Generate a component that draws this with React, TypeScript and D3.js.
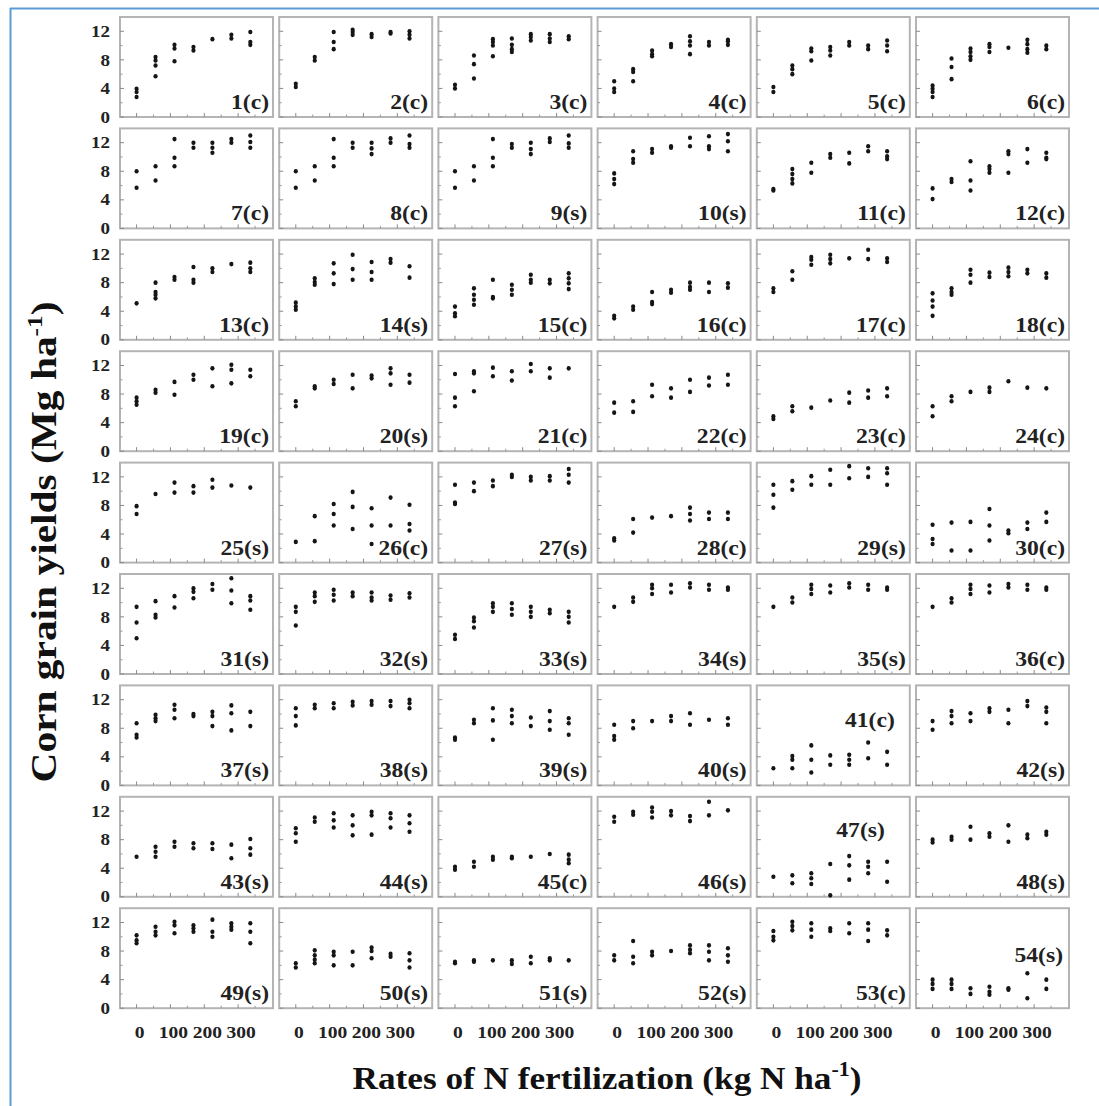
import React from "react";
import * as d3 from "d3";

const rates = [0, 56, 112, 168, 224, 280, 336];
const xMajorTicks = [0, 100, 200, 300];
const xMinorTicks = [50, 150, 250, 350];
const yTickLabels = [0, 4, 8, 12];
const yMinorTicks = [2, 6, 10];

const siteLabels = [
  "1(c)", "2(c)", "3(c)", "4(c)", "5(c)", "6(c)",
  "7(c)", "8(c)", "9(s)", "10(s)", "11(c)", "12(c)",
  "13(c)", "14(s)", "15(c)", "16(c)", "17(c)", "18(c)",
  "19(c)", "20(s)", "21(c)", "22(c)", "23(c)", "24(c)",
  "25(s)", "26(c)", "27(s)", "28(c)", "29(s)", "30(c)",
  "31(s)", "32(s)", "33(s)", "34(s)", "35(s)", "36(c)",
  "37(s)", "38(s)", "39(s)", "40(s)", "41(c)", "42(s)",
  "43(s)", "44(s)", "45(c)", "46(s)", "47(s)", "48(s)",
  "49(s)", "50(s)", "51(s)", "52(s)", "53(c)", "54(s)",
];

// yields (Mg/ha) per site, per N rate, replicate values
const yieldsRow1 = [
  [[3.95, 3.5, 2.8], [8.4, 7.9, 7.2, 5.7], [10.1, 9.6, 7.8], [9.8, 9.3], [10.9], [11.5, 11.0], [11.9, 10.5, 10.1]],
  [[4.65, 4.2], [8.4, 7.9], [11.9, 10.5, 9.5], [12.2, 11.9, 11.5], [11.6, 11.2], [11.9, 11.7], [12.0, 11.5, 11.0]],
  [[4.5, 4.0], [8.6, 7.4, 5.4], [10.9, 10.5, 10.0, 8.5], [11.0, 10.1, 9.5, 9.1], [11.6, 11.2, 10.7], [11.6, 11.0, 10.5], [11.3, 10.9]],
  [[5.0, 4.0, 3.5], [6.7, 6.3, 5.0], [9.3, 8.8, 8.5], [10.2, 9.8], [11.3, 10.6, 10.0, 8.8], [10.5, 10.0], [10.8, 10.6, 10.1]],
  [[4.2, 3.5], [7.2, 6.7, 6.0], [9.6, 9.2, 7.9], [9.8, 9.3, 8.6], [10.5, 10.0], [10.0, 9.5], [10.7, 10.0, 9.2]],
  [[4.4, 3.95, 3.5, 2.8], [8.2, 7.0, 5.3], [9.6, 9.1, 8.5, 8.0], [10.2, 9.8, 9.1], [9.7], [10.8, 10.2, 9.5, 9.0], [10.0, 9.5]],
];
const yieldsRow2 = [
  [[8.0, 5.7], [8.7, 6.7], [12.5, 9.9, 8.7], [12.0, 11.3], [12.0, 11.3, 10.6], [12.5, 12.0], [13.0, 12.1, 11.3]],
  [[8.0, 5.7], [8.7, 6.7], [12.5, 9.9, 8.7], [12.0, 11.3], [12.0, 11.2, 10.4], [12.6, 12.0], [13.0, 11.8, 11.3]],
  [[8.0, 5.7], [8.7, 6.7], [12.5, 9.9, 8.7], [11.8, 11.3], [12.0, 11.1, 10.4], [12.6, 12.1], [13.0, 11.9, 11.3]],
  [[7.7, 6.9, 6.2], [10.8, 9.7, 9.2], [11.1, 10.6], [11.5, 11.3], [12.7, 11.5], [12.9, 11.5, 11.1], [13.2, 12.2, 10.8]],
  [[5.5, 5.3], [8.3, 7.6, 6.9, 6.3], [9.2, 7.8], [10.4, 9.9], [10.6, 9.1], [11.5, 10.8], [10.8, 10.1, 9.7]],
  [[5.6, 4.1], [6.9, 6.5], [9.4, 6.7, 5.3], [8.7, 8.3, 7.8], [10.8, 10.4, 7.8], [11.1, 9.2], [10.6, 9.9, 9.7]],
];
const yieldsRow3 = [
  [[5.1], [8.0, 6.7, 6.3, 5.8], [8.8, 8.4], [10.2, 8.4, 8.0], [10.0, 9.5], [10.6], [10.8, 10.0, 9.5]],
  [[5.2, 4.65, 4.2], [8.6, 8.1, 7.7], [10.7, 9.3, 7.8], [11.9, 9.9, 8.4], [10.9, 9.5, 8.4], [11.3, 10.8], [10.3, 8.7]],
  [[4.65, 3.7, 3.3], [7.2, 6.3, 5.6, 4.9], [8.4, 6.0, 5.8], [7.7, 7.0, 6.3], [9.1, 8.4, 8.0], [8.4, 7.9], [9.3, 8.6, 7.9, 7.1]],
  [[3.35, 3.0], [4.65, 4.2], [6.7, 5.3, 5.0], [7.0, 6.6], [8.0, 7.4, 7.0], [8.0, 6.7], [7.9, 7.3]],
  [[7.2, 6.7], [9.6, 8.4], [11.6, 11.2, 10.5], [11.9, 11.3, 10.7], [11.4], [12.6, 11.3], [11.4, 10.9]],
  [[6.5, 5.5, 4.65, 3.35], [7.2, 6.7, 6.3], [9.8, 9.1, 8.0], [9.4, 8.8], [10.1, 9.5, 8.9], [9.8, 9.3], [9.3, 8.7]],
];
const yieldsRow4 = [
  [[7.5, 7.0, 6.5], [8.6, 8.2], [9.7, 7.9], [10.7, 10.0], [11.6, 9.1], [12.1, 11.4, 9.5], [11.4, 10.5]],
  [[7.0, 6.3], [9.1, 8.8], [10.0, 9.4], [10.7, 8.8], [10.6, 10.2], [11.6, 10.9, 9.3], [10.7, 9.6]],
  [[10.8, 7.5, 6.3], [11.2, 10.9, 8.4], [11.7, 10.5], [11.2, 9.9], [12.2, 11.2], [11.6, 10.3], [11.6]],
  [[6.8, 5.4], [7.0, 5.5], [9.3, 7.7], [8.8, 7.5], [10.0, 8.3], [10.3, 9.2], [10.7, 9.3]],
  [[4.9, 4.5], [6.3, 5.6], [6.1], [7.1], [8.2, 6.8], [8.5, 7.5], [8.8, 7.7]],
  [[6.3, 4.9], [7.7, 7.0], [8.3], [8.9, 8.3], [9.8], [8.9], [8.8]],
];
const yieldsRow5 = [
  [[7.9, 6.8], [9.6], [11.2, 9.8], [10.7, 9.8], [11.6, 10.5], [10.8], [10.5]],
  [[2.9], [6.5, 3.0], [8.2, 6.8, 5.2], [9.9, 7.8, 4.7], [7.6, 5.2, 2.6], [9.1, 5.2], [8.1, 5.4, 4.5]],
  [[10.9, 8.4, 8.2], [11.2, 10.0], [11.5, 10.7], [12.3, 12.0], [12.0, 11.5], [12.1, 11.5], [13.1, 12.3, 11.2]],
  [[3.4, 3.1], [6.1, 4.2], [6.3], [6.5], [7.7, 6.8, 5.9], [7.0, 6.1], [7.0, 6.1]],
  [[10.9, 9.5, 7.7], [11.4, 10.2], [12.1, 10.9], [13.0, 10.9], [13.5, 11.8], [13.2, 12.0], [13.2, 12.5, 10.9]],
  [[5.3, 3.3, 2.6], [5.6, 1.7], [5.7, 1.7], [7.5, 5.2, 3.1], [4.5, 4.1], [5.6, 4.7], [7.0, 5.7]],
];
const yieldsRow6 = [
  [[9.4, 7.2, 5.0], [10.2, 8.3, 7.9], [10.9, 9.3], [12.0, 11.5, 10.6], [12.6, 11.8], [13.4, 11.7, 9.9], [10.9, 10.3, 9.0]],
  [[9.4, 8.7, 6.8], [11.4, 10.9, 10.1], [11.8, 11.1, 10.3], [11.4, 10.9], [11.4, 10.7, 10.3], [11.0, 10.4], [11.3, 10.7]],
  [[5.5, 4.9], [7.9, 7.4, 6.5], [9.9, 9.4, 8.7], [9.9, 9.1, 8.3], [9.4, 8.7, 8.0], [9.0, 8.5], [8.7, 8.0, 7.2]],
  [[9.4], [10.7, 10.1], [12.5, 12.0, 11.2], [12.5, 11.4], [12.7, 12.1], [12.5, 11.8], [12.1, 11.8]],
  [[9.4], [10.7, 10.0], [12.5, 11.9, 11.2], [12.4, 11.4], [12.7, 12.1], [12.5, 11.8], [12.1, 11.8]],
  [[9.4], [10.6, 10.0], [12.5, 11.9, 11.2], [12.4, 11.4], [12.6, 12.1], [12.5, 11.8], [12.1, 11.8]],
];
const yieldsRow7 = [
  [[8.7, 7.1, 6.7], [9.9, 9.4, 9.0], [11.3, 10.6, 9.4], [10.0, 9.7], [10.3, 9.7, 8.3], [11.2, 10.1, 7.7], [10.3, 8.3]],
  [[10.8, 9.7, 8.4], [11.3, 10.8], [11.5, 10.8], [11.7, 11.2], [11.8, 11.3], [11.8, 11.1], [12.0, 11.5, 10.8]],
  [[6.7, 6.4], [9.2, 8.7], [10.8, 9.1, 6.4], [10.6, 9.7, 8.7], [9.5, 8.3], [10.4, 9.0, 7.8], [9.4, 8.7, 7.1]],
  [[8.5, 6.9, 6.4], [9.0, 8.0], [9.0], [9.7, 9.0], [10.1, 8.5], [9.2], [9.4, 8.5]],
  [[2.4], [4.1, 3.6, 2.4], [5.6, 3.6, 1.8], [4.2, 2.9], [4.3, 3.6, 2.9], [6.0, 3.8], [4.7, 2.9]],
  [[9.0, 7.8], [10.4, 9.7, 8.7], [10.1, 9.0], [10.8, 10.3], [10.6, 8.7], [11.8, 11.1], [10.9, 10.3, 8.7]],
];
const yieldsRow8 = [
  [[5.6], [7.0, 6.3, 5.6], [7.7, 7.0], [7.5, 6.8], [7.5, 6.7], [7.3, 5.4], [8.1, 6.8, 5.9]],
  [[9.6, 8.9, 7.7], [11.1, 10.5], [11.7, 10.7, 9.7], [11.4, 10.0, 8.6], [11.9, 11.4, 8.7], [11.7, 11.0, 9.7], [11.4, 10.3, 9.1]],
  [[4.2, 3.8], [4.9, 4.2], [5.6, 5.2], [5.6, 5.4], [5.6], [6.0], [5.9, 5.2, 4.7]],
  [[11.2, 10.5], [11.9, 11.5], [12.5, 11.9, 11.1], [12.0, 11.4], [11.3, 10.6], [13.3, 11.4], [12.1]],
  [[2.8], [3.0, 1.9], [3.3, 2.6, 1.8], [4.6, 0.2], [5.7, 4.4, 2.4], [4.9, 4.2, 3.3], [4.9, 2.1]],
  [[8.0, 7.6], [8.4, 8.0], [9.8, 8.0], [8.9, 8.4], [10.0, 7.7], [8.7, 8.2], [9.1, 8.7]],
];
const yieldsRow9 = [
  [[10.2, 9.5, 9.1], [11.4, 10.7, 10.2], [12.1, 11.6, 10.5], [11.6, 11.2, 10.7], [12.4, 10.7, 10.0], [11.9, 11.4, 11.0], [11.9, 10.7, 9.1]],
  [[6.3, 5.7], [8.1, 7.4, 6.8, 6.3], [7.9, 7.4, 6.0], [7.9, 6.0], [8.5, 8.0, 7.0], [7.6, 7.2], [7.7, 6.7, 5.7]],
  [[6.5, 6.3], [6.7, 6.5], [6.7], [6.7, 6.2], [7.2, 6.3], [7.0, 6.7], [6.7]],
  [[7.4, 6.7], [9.4, 7.2, 6.3], [7.9, 7.4], [8.0], [8.8, 8.2, 7.7], [8.8, 7.9, 6.7], [8.4, 7.4, 6.5]],
  [[10.8, 10.0, 9.5], [12.1, 11.5, 10.9], [11.9, 11.0, 10.0], [11.2, 10.8], [11.9, 10.5], [11.9, 11.0, 9.4], [10.9, 10.2]],
  [[4.0, 3.4, 2.7], [4.0, 3.4, 2.7], [2.8, 2.0], [3.0, 2.3, 1.9], [2.8, 2.6], [4.9, 1.4], [4.0, 2.7]],
];

const allYields = [
  ...yieldsRow1, ...yieldsRow2, ...yieldsRow3, ...yieldsRow4, ...yieldsRow5,
  ...yieldsRow6, ...yieldsRow7, ...yieldsRow8, ...yieldsRow9,
];

const W = 1099;
const H = 1106;
const NCOL = 6;
const NROW = 9;
const gridLeft = 120;
const colPitch = 159.2;
const panelW = 153;
const gridTop = 17;
const rowPitch = 111.4;
const panelH = 100;

const FONT = "'Liberation Serif', 'Times New Roman', serif";

const x = d3.scaleLinear().domain([-49, 403]).range([0, panelW]);
const y = d3.scaleLinear().domain([0, 14]).range([panelH, 0]);

// labels that sit in the upper part of the panel
const upperLabel: Record<number, { dx: number; dy: number }> = {
  40: { dx: -15, dy: 42 },
  46: { dx: -25, dy: 40 },
  53: { dx: -6, dy: 54 },
};

function Panel({ idx }: { idx: number }) {
  const col = idx % NCOL;
  const row = Math.floor(idx / NCOL);
  const left = gridLeft + col * colPitch;
  const top = gridTop + row * rowPitch;
  const data = allYields[idx];
  const up = upperLabel[idx];
  const lx = up ? panelW + up.dx : panelW - 4;
  const ly = up ? up.dy : panelH - 8;
  return (
    <g transform={`translate(${left},${top})`}>
      <rect x={0} y={0} width={panelW} height={panelH} fill="#fff" stroke="#b4b4b4" strokeWidth={2} />
      {xMajorTicks.map((t) => (
        <line key={"xM" + t} x1={x(t)} x2={x(t)} y1={panelH} y2={panelH - 4} stroke="#8a8a8a" strokeWidth={1} />
      ))}
      {xMinorTicks.map((t) => (
        <line key={"xm" + t} x1={x(t)} x2={x(t)} y1={panelH} y2={panelH - 2.5} stroke="#9a9a9a" strokeWidth={1} />
      ))}
      {yTickLabels.map((t) => (
        <line key={"yM" + t} x1={0} x2={4} y1={y(t)} y2={y(t)} stroke="#8a8a8a" strokeWidth={1} />
      ))}
      {yMinorTicks.map((t) => (
        <line key={"ym" + t} x1={0} x2={2.5} y1={y(t)} y2={y(t)} stroke="#9a9a9a" strokeWidth={1} />
      ))}
      {data.map((vals, i) =>
        vals.map((v, j) => (
          <ellipse key={`p${i}-${j}`} cx={x(rates[i])} cy={y(v)} rx={2.1} ry={2.3} fill="#151515" />
        ))
      )}
      <text
        transform={`translate(${lx},${ly}) scale(1.18,1)`}
        textAnchor="end"
        fontFamily={FONT}
        fontWeight="bold"
        fontSize={20}
        fill="#222"
      >
        {siteLabels[idx]}
      </text>
      {col === 0 &&
        yTickLabels.map((t) => (
          <text
            key={"yl" + t}
            transform={`translate(-10,${y(t)}) scale(1.12,1)`}
            textAnchor="end"
            dominantBaseline="central"
            fontFamily={FONT}
            fontWeight="bold"
            fontSize={17}
            fill="#222"
          >
            {t}
          </text>
        ))}
      {row === NROW - 1 &&
        xMajorTicks.map((t) => (
          <text
            key={"xl" + t}
            transform={`translate(${x(t) + 3},${panelH + 30}) scale(1.15,1)`}
            textAnchor="middle"
            fontFamily={FONT}
            fontWeight="bold"
            fontSize={17}
            fill="#222"
          >
            {t}
          </text>
        ))}
    </g>
  );
}

export default function App() {
  const panels = d3.range(NCOL * NROW);
  return (
    <svg
      width={W}
      height={H}
      style={{ position: "absolute", left: 0, top: 0, background: "#fff" }}
    >
      <rect x={0} y={0} width={W} height={H} fill="#fff" />
      <line x1={10} x2={W} y1={8.5} y2={8.5} stroke="#5b9bd5" strokeWidth={2} />
      <line x1={10.5} x2={10.5} y1={8} y2={H} stroke="#5b9bd5" strokeWidth={2} />
      {panels.map((i) => (
        <Panel key={i} idx={i} />
      ))}
      <text
        transform={`translate(56,542) rotate(-90) scale(1.15,1)`}
        textAnchor="middle"
        fontFamily={FONT}
        fontWeight="bold"
        fontSize={36}
        fill="#111"
      >
        Corn grain yields (Mg ha
        <tspan fontSize={22} dy={-14}>-1</tspan>
        <tspan dy={14}>)</tspan>
      </text>
      <text
        transform={`translate(607,1089) scale(1.1,1)`}
        textAnchor="middle"
        fontFamily={FONT}
        fontWeight="bold"
        fontSize={32}
        fill="#111"
      >
        Rates of N fertilization (kg N ha
        <tspan fontSize={20} dy={-13}>-1</tspan>
        <tspan dy={13}>)</tspan>
      </text>
    </svg>
  );
}
